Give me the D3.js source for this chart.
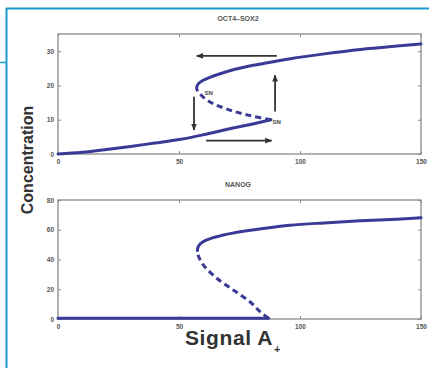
<!DOCTYPE html>
<html>
<head>
<meta charset="utf-8">
<script src="https://cdn.jsdelivr.net/npm/d3@7"></script>
<style>
  body { margin: 0; background: #fff; }
  svg { display: block; font-family: "Liberation Sans", Arial, sans-serif; }
</style>
</head>
<body>
<div id="chart"></div>
<script>
// tick values
const signalTicks = [0, 50, 100, 150];
const oct4Ticks = [0, 10, 20, 30];
const nanogTicks = [0, 20, 40, 60, 80];

// OCT4-SOX2 branches [signal, concentration]
const oct4Lower = [[0, 0], [10, 0.5], [20, 1.3], [30, 2.2], [40, 3.2], [50, 4.2], [60, 5.6], [70, 7.2], [80, 8.7], [88, 10]];
const oct4Unstable = [[88, 10], [80, 11.1], [72, 12.6], [65, 14.4], [61, 16], [58.6, 17.6], [57.6, 18.5], [57.3, 19.2]];
const oct4Upper = [[57.3, 19.2], [57.5, 19.9], [58.3, 20.7], [60, 21.5], [62.5, 22.3], [67, 23.4], [75, 25], [85, 26.4], [96, 27.8], [110, 29.2], [125, 30.5], [140, 31.5], [150, 32.1]];

// NANOG branches
const nanogLower = [[0, 0.5], [87, 0.5]];
const nanogUnstable = [[87, 0.5], [83.5, 4.9], [79.3, 11.6], [72.4, 19.5], [65.6, 27.4], [61, 34.5], [59, 39], [57.9, 43], [57.6, 46]];
const nanogUpper = [[57.6, 46], [57.9, 48.5], [59, 50.8], [61, 52.8], [63.5, 54.4], [67, 55.9], [71.1, 57.4], [84.8, 60.8], [95.9, 63], [110, 64.6], [125, 66], [140, 67.1], [150, 68]];

// hysteresis arrows [x1, y1, x2, y2] (arrow head at x2,y2)
const oct4Arrows = [[90.4, 28.6, 57.3, 28.6], [61.2, 3.9, 88.3, 3.9], [56.2, 16.7, 56.2, 7], [89.7, 12.4, 89.7, 23]];
// saddle-node labels (text start)
const snPoints = [[60.5, 17.3], [88.6, 8.8]];

const W = 429, H = 368;
const svg = d3.select("#chart").append("svg").attr("width", W).attr("height", H);

// frame lines
const frameColor = "#1b9ad0";
svg.append("line").attr("x1", 6.5).attr("x2", 6.5).attr("y1", 8).attr("y2", H).attr("stroke", frameColor).attr("stroke-width", 2);
svg.append("line").attr("x1", 6).attr("x2", W).attr("y1", 8.5).attr("y2", 8.5).attr("stroke", frameColor).attr("stroke-width", 2);
svg.append("line").attr("x1", 0).attr("x2", 6).attr("y1", 62.5).attr("y2", 62.5).attr("stroke", frameColor).attr("stroke-width", 1.5);

svg.append("defs").append("marker")
    .attr("id", "head")
    .attr("viewBox", "0 0 10 10")
    .attr("refX", 9).attr("refY", 5)
    .attr("markerWidth", 4).attr("markerHeight", 4)
    .attr("orient", "auto")
    .append("path").attr("d", "M0,1L10,5L0,9Z").attr("fill", "#333");

const curveColor = "#3a3a96";

function panel(top, bottom, yMax, yTicks, title, branches, arrows, labels) {
    const x = d3.scaleLinear().domain([0, 150]).range([58, 421]);
    const y = d3.scaleLinear().domain([0, yMax]).range([bottom, top]);
    const g = svg.append("g");

    // box
    g.append("rect")
        .attr("x", x(0)).attr("y", y(yMax))
        .attr("width", x(150) - x(0)).attr("height", y(0) - y(yMax))
        .attr("fill", "none").attr("stroke", "#8a8a8a").attr("stroke-width", 1.3);

    // inner ticks on all four sides
    g.append("g").attr("transform", `translate(0,${bottom})`)
        .call(d3.axisBottom(x).tickValues(signalTicks).tickSizeInner(-3).tickSizeOuter(0).tickPadding(5));
    g.append("g").attr("transform", `translate(0,${top})`)
        .call(d3.axisTop(x).tickValues(signalTicks).tickSizeInner(-3).tickSizeOuter(0).tickFormat(""));
    g.append("g").attr("transform", `translate(${x(0)},0)`)
        .call(d3.axisLeft(y).tickValues(yTicks).tickSizeInner(-3).tickSizeOuter(0).tickPadding(4));
    g.append("g").attr("transform", `translate(${x(150)},0)`)
        .call(d3.axisRight(y).tickValues(yTicks).tickSizeInner(-3).tickSizeOuter(0).tickFormat(""));
    g.selectAll(".domain").remove();
    g.selectAll(".tick line").attr("stroke", "#8a8a8a");
    g.selectAll(".tick text")
        .attr("fill", "#555").style("font-size", "6.5px").style("font-weight", "bold")
        .style("font-family", "Liberation Sans, Arial, sans-serif");

    // title
    g.append("text")
        .attr("x", 238).attr("y", top - 13)
        .attr("text-anchor", "middle")
        .attr("fill", "#555").style("font-size", "7px").style("font-weight", "bold")
        .text(title);

    const line = d3.line().x(d => x(d[0])).y(d => y(d[1])).curve(d3.curveCatmullRom);
    branches.forEach(b => {
        g.append("path")
            .attr("d", line(b.pts))
            .attr("fill", "none")
            .attr("stroke", curveColor)
            .attr("stroke-width", 3)
            .attr("stroke-linecap", b.dashed ? "butt" : "round")
            .attr("stroke-dasharray", b.dashed ? "6,4" : null);
    });

    arrows.forEach(a => {
        g.append("line")
            .attr("x1", x(a[0])).attr("y1", y(a[1]))
            .attr("x2", x(a[2])).attr("y2", y(a[3]))
            .attr("stroke", "#333").attr("stroke-width", 1.8)
            .attr("marker-end", "url(#head)");
    });

    labels.forEach(p => {
        g.append("text")
            .attr("x", x(p[0])).attr("y", y(p[1]))
            .attr("fill", "#444").style("font-size", "6px").style("font-weight", "bold")
            .text("SN");
    });
}

panel(34, 154, 35, oct4Ticks, "OCT4\u2013SOX2",
    [{ pts: oct4Lower }, { pts: oct4Unstable, dashed: true }, { pts: oct4Upper }],
    oct4Arrows, snPoints);

panel(200, 319, 80, nanogTicks, "NANOG",
    [{ pts: nanogLower }, { pts: nanogUnstable, dashed: true }, { pts: nanogUpper }],
    [], []);

// axis labels
svg.append("text")
    .attr("transform", "translate(33,160) rotate(-90)")
    .attr("text-anchor", "middle")
    .attr("fill", "#333").style("font-size", "16px").style("font-weight", "bold")
    .text("Concentration");

const sig = svg.append("text")
    .attr("x", 185).attr("y", 345)
    .attr("fill", "#333").style("font-weight", "bold");
sig.append("tspan").style("font-size", "21px").style("letter-spacing", "0.6px").text("Signal A");
sig.append("tspan").attr("dx", 1).attr("dy", 8).style("font-size", "11px").text("+");
</script>
</body>
</html>
